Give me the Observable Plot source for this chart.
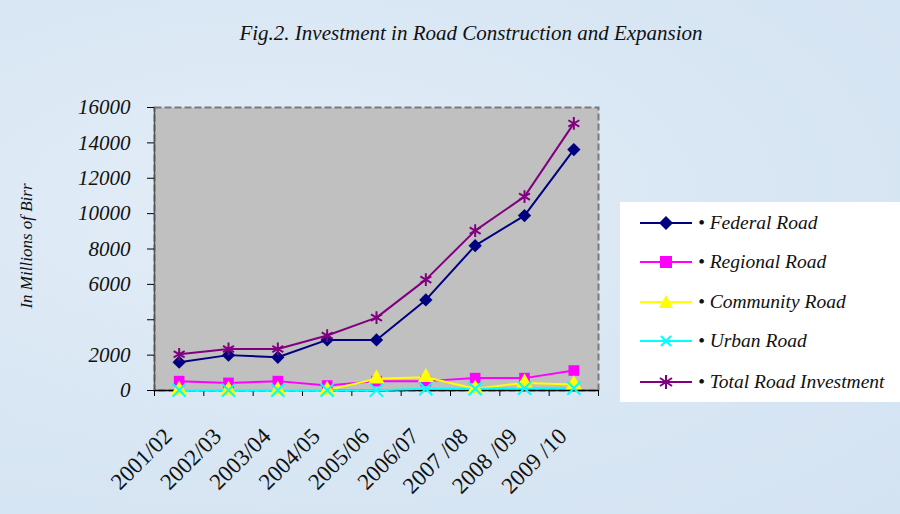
<!DOCTYPE html>
<html>
<head>
<meta charset="utf-8">
<script src="https://cdn.jsdelivr.net/npm/d3@7"></script>
<script src="https://cdn.jsdelivr.net/npm/@observablehq/plot@0.6"></script>
<style>
  html, body { margin: 0; padding: 0; }
  #wrap { position: relative; width: 900px; height: 514px; overflow: hidden;
    background: radial-gradient(ellipse at 30% 40%, #e3edf7 0%, #d9e7f4 50%, #d4e3f2 100%);
    font-family: "Liberation Serif", serif; }
  #title { position: absolute; left: 0; width: 942px; top: 21px; text-align: center;
    font-style: italic; font-size: 21px; color: #111; }
  #ylab { position: absolute; left: 27px; top: 246px; transform: translate(-50%, -50%) rotate(-90deg);
    font-style: italic; font-size: 17px; white-space: nowrap; color: #111; }
  #chart { position: absolute; left: 0; top: 0; }
  #legend { position: absolute; left: 620px; top: 202px; width: 282px; height: 200px; background: #fff; }
  .li { position: absolute; left: 20px; height: 24px; display: flex; align-items: center;
    font-style: italic; font-size: 19.5px; color: #111; white-space: nowrap; }
  .li svg { margin-right: 6px; }
</style>
</head>
<body>
<div id="wrap">
  <div id="chart"></div>
  <div id="title">Fig.2. Investment in Road Construction and Expansion</div>
  <div id="ylab">In Millions of Birr</div>
  <div id="legend"></div>
</div>
<script>
const categories = ["2001/02", "2002/03", "2003/04", "2004/05", "2005/06", "2006/07", "2007 /08", "2008 /09", "2009 /10"];
const federal   = [1600, 2000, 1880, 2860, 2860, 5120, 8190, 9890, 13620];
const regional  = [530, 430, 530, 280, 530, 530, 700, 700, 1130];
const community = [20, 20, 20, 20, 660, 750, 100, 430, 340];
const urban     = [20, 20, 20, 20, 20, 100, 100, 130, 130];
const total     = [2050, 2350, 2350, 3110, 4120, 6270, 9040, 10960, 15100];

const seriesNames = ["Federal Road", "Regional Road", "Community Road", "Urban Road", "Total Road Investment"];
const seriesValues = [federal, regional, community, urban, total];
const seriesColors = ["#000080", "#ff00ff", "#ffff00", "#00ffff", "#800080"];
const seriesSymbols = ["diamond2", "square", "triangle", "times", "asterisk"];

const yTicks = [0, 2000, 4000, 6000, 8000, 10000, 12000, 14000, 16000];
const yTickLabels = ["0", "2000", "", "6000", "8000", "10000", "12000", "14000", "16000"];

const rows = seriesNames.flatMap((s, k) =>
  categories.map((c, i) => ({series: s, k, i, cat: c, value: seriesValues[k][i]})));

const marks = [
  Plot.frame({fill: "#c0c0c0"}),
  Plot.frame({stroke: "#7a7a7a", strokeWidth: 2, strokeDasharray: "7,3"}),
  Plot.ruleY([0], {stroke: "#000", strokeWidth: 1.5}),
  Plot.ruleX([0], {stroke: "#555", strokeWidth: 1.5}),
  Plot.axisY({ticks: yTicks, tickSize: 7, tickFormat: () => "", label: null}),
  Plot.text(yTicks, {x: 0, y: d => d, text: (d, i) => yTickLabels[i], textAnchor: "end",
    dx: -24, fontSize: 21, fontStyle: "italic", fill: "#111"}),
  Plot.axisX({ticks: d3.range(0, categories.length + 1), tickSize: 6, tickFormat: () => "", label: null}),
  Plot.text(categories, {x: (d, i) => i + 0.5, y: 0, text: d => d, rotate: -45, textAnchor: "end",
    dx: -11, dy: 42, fontSize: 23, fontStyle: "normal", fill: "#111"})
];
seriesNames.forEach((s, k) => {
  const data = rows.filter(r => r.k === k);
  marks.push(Plot.line(data, {x: d => d.i + 0.5, y: "value", stroke: seriesColors[k], strokeWidth: 2}));
});
seriesNames.forEach((s, k) => {
  const data = rows.filter(r => r.k === k);
  const stroked = seriesSymbols[k] === "times" || seriesSymbols[k] === "asterisk";
  marks.push(Plot.dot(data, stroked
    ? {x: d => d.i + 0.5, y: "value", symbol: () => seriesSymbols[k], stroke: seriesColors[k], strokeWidth: 2, r: 6}
    : {x: d => d.i + 0.5, y: "value", symbol: () => seriesSymbols[k], fill: seriesColors[k], stroke: "none", r: 6}));
});

const chart = Plot.plot({
  width: 900, height: 514,
  marginLeft: 154, marginRight: 302, marginTop: 107, marginBottom: 124,
  x: {domain: [0, categories.length]},
  y: {domain: [0, 16000]},
  symbol: {type: "identity"},
  style: {background: "transparent", color: "#000", fontFamily: "Liberation Serif, serif"},
  marks
});
document.getElementById("chart").appendChild(chart);

// legend
const legend = document.getElementById("legend");
const symPaths = {
  diamond2: '<path d="M26,5 L33,12 L26,19 L19,12 Z" fill="COL"/>',
  square: '<rect x="20" y="6" width="12" height="12" fill="COL"/>',
  triangle: '<path d="M26,5 L33,18 L19,18 Z" fill="COL"/>',
  times: '<path d="M21,7 L31,17 M31,7 L21,17" stroke="COL" stroke-width="2"/>',
  asterisk: '<path d="M26,5 L26,19 M20,8 L32,16 M32,8 L20,16" stroke="COL" stroke-width="2"/>'
};
const legendY = [21, 60, 100, 139, 180];
seriesNames.forEach((s, k) => {
  const div = document.createElement("div");
  div.className = "li";
  div.style.top = (legendY[k] - 12) + "px";
  div.innerHTML = `<svg width="52" height="24"><line x1="0" x2="52" y1="12" y2="12" stroke="${seriesColors[k]}" stroke-width="2"/>${symPaths[seriesSymbols[k]].replace(/COL/g, seriesColors[k])}</svg><span>\u2022 ${s}</span>`;
  legend.appendChild(div);
});
</script>
</body>
</html>
